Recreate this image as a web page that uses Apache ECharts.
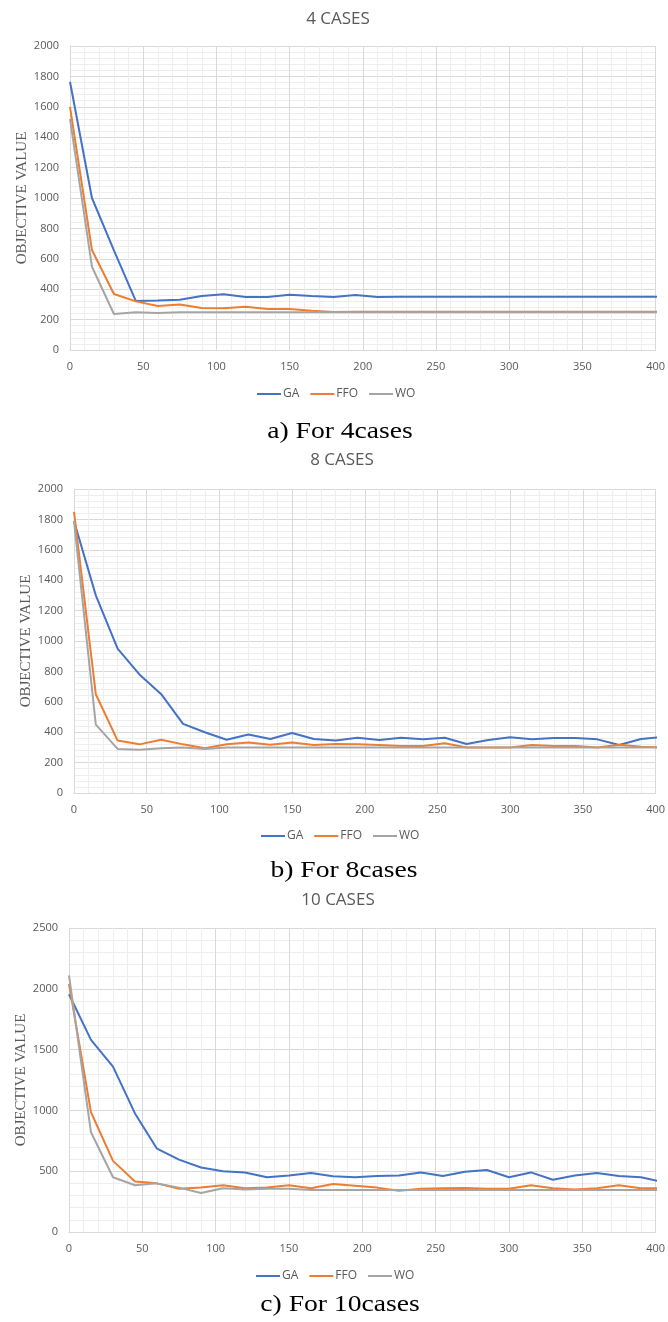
<!DOCTYPE html>
<html>
<head>
<meta charset="utf-8">
<title>Objective value convergence</title>
<script src="https://cdn.jsdelivr.net/npm/echarts@6/dist/echarts.min.js"></script>
<style>
  html, body { margin: 0; padding: 0; background: #fff; }
  #main { width: 668px; height: 1322px; }
</style>
</head>
<body>
<div id="main"></div>
<script>
// iterations (x values shared by all three plots)
const iterations = [0, 15, 30, 45, 60, 75, 90, 105, 120, 135, 150, 165, 180, 195,
  210, 225, 240, 255, 270, 285, 300, 315, 330, 345, 360, 375, 390, 405];

// 4 cases
const ga4 = [1765, 1000, 655, 322, 325, 330, 355, 366, 349, 349, 364, 355, 349, 362,
  349, 350, 350, 350, 350, 350, 350, 350, 350, 350, 350, 350, 350, 350];
const ffo4 = [1600, 658, 368, 320, 290, 300, 276, 274, 285, 270, 270, 259, 250, 252,
  252, 252, 252, 252, 252, 252, 252, 252, 252, 252, 252, 252, 252, 252];
const wo4 = [1520, 548, 237, 248, 243, 248, 248, 248, 248, 248, 248, 248, 248, 248,
  248, 248, 248, 248, 248, 248, 248, 248, 248, 248, 248, 248, 248, 248];

// 8 cases
const ga8 = [1790, 1300, 950, 780, 650, 455, 400, 350, 385, 355, 395, 355, 346, 364,
  349, 364, 353, 364, 322, 349, 366, 353, 362, 362, 353, 316, 355, 368];
const ffo8 = [1850, 650, 345, 320, 350, 320, 295, 320, 333, 318, 333, 316, 322, 320,
  316, 309, 309, 327, 300, 300, 300, 316, 309, 309, 300, 318, 305, 300];
const wo8 = [1790, 450, 290, 285, 295, 300, 290, 300, 300, 300, 300, 300, 300, 300,
  300, 300, 300, 300, 300, 300, 300, 300, 300, 300, 300, 300, 300, 300];

// 10 cases
const ga10 = [1955, 1580, 1360, 975, 685, 595, 530, 500, 490, 450, 465, 485, 458, 450,
  460, 465, 490, 460, 495, 510, 450, 490, 430, 465, 485, 460, 450, 410];
const ffo10 = [2040, 985, 585, 415, 400, 355, 365, 385, 360, 365, 385, 360, 395, 380,
  365, 340, 355, 360, 362, 355, 355, 385, 360, 350, 360, 385, 360, 360];
const wo10 = [2110, 820, 450, 385, 400, 365, 320, 360, 350, 355, 355, 345, 345, 345,
  345, 345, 345, 345, 345, 345, 345, 345, 345, 345, 345, 345, 345, 345];

const seriesNames = ['GA', 'FFO', 'WO'];
const colors = ['#4472C4', '#ED7D31', '#A5A5A5'];

const panels = [
  { title: '4 CASES', caption: 'a) For 4cases', yMax: 2000, yStep: 200, data: [ga4, ffo4, wo4],
    grid: { left: 70, top: 46, width: 588, height: 304 }, titleX: 338, titleY: 11, legendX: 257, legendY: 388, captionY: 432 },
  { title: '8 CASES', caption: 'b) For 8cases', yMax: 2000, yStep: 200, data: [ga8, ffo8, wo8],
    grid: { left: 74, top: 489, width: 588, height: 304 }, titleX: 342, titleY: 452, legendX: 261, legendY: 830, captionY: 871 },
  { title: '10 CASES', caption: 'c) For 10cases', yMax: 2500, yStep: 500, data: [ga10, ffo10, wo10],
    grid: { left: 69, top: 928, width: 589, height: 304 }, titleX: 338, titleY: 892, legendX: 256, legendY: 1270, captionY: 1305 }
];

const textColor = '#595959';
const sans = 'Open Sans';

const chart = echarts.init(document.getElementById('main'));

const option = {
  animation: false,
  color: colors,
  title: panels.map(p => ({
    text: p.title,
    left: p.titleX,
    top: p.titleY,
    textAlign: 'center',
    padding: 0,
    textStyle: { fontFamily: sans, fontSize: 17, fontWeight: 'normal', color: textColor }
  })),
  legend: panels.map(p => ({
    data: seriesNames,
    left: p.legendX,
    top: p.legendY,
    padding: 0,
    icon: 'rect',
    itemWidth: 24,
    itemHeight: 2,
    itemGap: 11,
    textStyle: { fontFamily: sans, fontSize: 12, color: textColor, padding: [0, 0, 0, -3] }
  })),
  grid: panels.map(p => p.grid),
  xAxis: panels.map((p, i) => ({
    type: 'value',
    gridIndex: i,
    min: 0,
    max: 400,
    interval: 50,
    axisLine: { show: true, lineStyle: { color: '#d9d9d9' } },
    axisTick: { show: false },
    axisLabel: { margin: 11, fontFamily: sans, fontSize: 11, color: textColor },
    splitLine: { show: true, lineStyle: { color: '#d9d9d9' } },
    minorTick: { show: false, splitNumber: 5 },
    minorSplitLine: { show: true, lineStyle: { color: '#eeeeee' } }
  })),
  yAxis: panels.map((p, i) => ({
    type: 'value',
    gridIndex: i,
    min: 0,
    max: p.yMax,
    interval: p.yStep,
    name: 'OBJECTIVE VALUE',
    nameLocation: 'middle',
    nameGap: 40,
    nameMoveOverlap: false,
    nameTextStyle: { fontFamily: 'Liberation Serif', fontSize: 15, color: textColor },
    axisLine: { show: true, lineStyle: { color: '#d9d9d9' } },
    axisTick: { show: false },
    axisLabel: { margin: 11, fontFamily: sans, fontSize: 11, color: textColor, formatter: v => String(v) },
    splitLine: { show: true, lineStyle: { color: '#d9d9d9' } },
    minorTick: { show: false, splitNumber: 5 },
    minorSplitLine: { show: true, lineStyle: { color: '#eeeeee' } }
  })),
  series: [],
  graphic: panels.map(p => ({
    type: 'text',
    x: p.titleX + 2,
    y: p.captionY,
    scaleX: 1.15,
    silent: true,
    style: {
      text: p.caption,
      fontFamily: 'Liberation Serif',
      fontSize: 24,
      fill: '#000',
      textAlign: 'center',
      textVerticalAlign: 'middle'
    }
  }))
};

panels.forEach((p, i) => {
  p.data.forEach((values, k) => {
    option.series.push({
      name: seriesNames[k],
      type: 'line',
      xAxisIndex: i,
      yAxisIndex: i,
      symbol: 'none',
      lineStyle: { width: 2, color: colors[k] },
      data: iterations.map((x, j) => [x, values[j]])
    });
  });
});

chart.setOption(option);
</script>
</body>
</html>
